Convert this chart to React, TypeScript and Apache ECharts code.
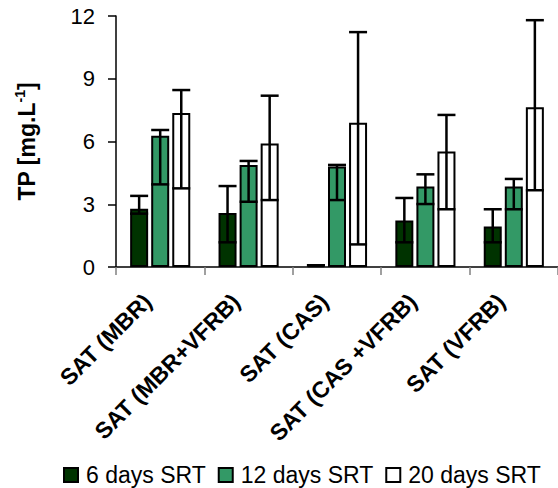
import React, { useEffect, useRef } from "react";
import * as echarts from "echarts";

// Treatment trains on the x axis
const categories = [
  "SAT (MBR)",
  "SAT (MBR+VFRB)",
  "SAT (CAS)",
  "SAT (CAS +VFRB)",
  "SAT (VFRB)",
];

// Mean TP [mg/L] per SRT
const srt6 = [2.78, 2.58, 0.08, 2.22, 1.94];
const srt12 = [6.27, 4.88, 4.8, 3.85, 3.85];
const srt20 = [7.36, 5.9, 6.9, 5.52, 7.64];

// Error bar ranges (low, high)
const srt6Low = [2.55, 1.18, 0.08, 1.18, 1.18];
const srt6High = [3.4, 3.87, 0.08, 3.3, 2.76];
const srt12Low = [3.95, 3.12, 3.2, 3.01, 2.76];
const srt12High = [6.55, 5.07, 4.88, 4.43, 4.21];
const srt20Low = [3.76, 3.2, 1.08, 2.76, 3.67];
const srt20High = [8.46, 8.19, 11.23, 7.27, 11.8];

const yTicks = [0, 3, 6, 9, 12];

const seriesNames = ["6 days SRT", "12 days SRT", "20 days SRT"];
const seriesColors = ["#003300", "#339966", "#ffffff"];

const FONT = "'Liberation Sans', Arial, sans-serif";
const BAR_W = 18;
const BAR_GAP = 0.17;
const BAR_STEP = BAR_W * (1 + BAR_GAP);

function errorSeries(low: number[], high: number[], idx: number) {
  const offset = (idx - 1) * BAR_STEP;
  return {
    type: "custom",
    z: 10,
    silent: true,
    data: low.map((lo, i) => [i, lo, high[i]]),
    encode: { x: 0, y: [1, 2] },
    renderItem: (_params: any, api: any) => {
      const cat = api.value(0);
      const pLo = api.coord([cat, api.value(1)]);
      const pHi = api.coord([cat, api.value(2)]);
      const x = pLo[0] + offset;
      const half = 9;
      const style = { stroke: "#000", lineWidth: 2.5 };
      return {
        type: "group",
        children: [
          { type: "line", shape: { x1: x, y1: pLo[1], x2: x, y2: pHi[1] }, style },
          { type: "line", shape: { x1: x - half, y1: pHi[1], x2: x + half, y2: pHi[1] }, style },
          { type: "line", shape: { x1: x - half, y1: pLo[1], x2: x + half, y2: pLo[1] }, style },
        ],
      };
    },
  };
}

export default function App() {
  const ref = useRef<HTMLDivElement>(null);

  useEffect(() => {
    if (!ref.current) return;
    const chart = echarts.init(ref.current, undefined, { renderer: "svg" });
    const values = [srt6, srt12, srt20];

    chart.setOption({
      animation: false,
      backgroundColor: "#ffffff",
      textStyle: { fontFamily: FONT },
      grid: { left: 116, top: 16, width: 451, height: 251, containLabel: false },
      legend: {
        data: seriesNames,
        left: 63,
        top: 463,
        padding: 0,
        itemWidth: 14,
        itemHeight: 14,
        itemGap: 12,
        icon: "rect",
        textStyle: {
          fontFamily: FONT,
          fontSize: 23,
          lineHeight: 24,
          color: "#000",
          padding: [0, 0, 0, 3],
        },
      },
      xAxis: {
        type: "category",
        data: categories,
        axisLine: { lineStyle: { color: "#000", width: 1.5 } },
        axisTick: { show: true, length: 8, lineStyle: { color: "#808080", width: 1.5 } },
        axisLabel: {
          interval: 0,
          rotate: 45,
          margin: 18,
          fontFamily: FONT,
          fontSize: 23,
          fontWeight: "bold",
          color: "#000",
          padding: [0, 18, 0, 0],
        },
      },
      yAxis: {
        type: "value",
        min: yTicks[0],
        max: yTicks[yTicks.length - 1],
        interval: 3,
        splitLine: { show: false },
        axisLine: { show: true, lineStyle: { color: "#000", width: 1.5 } },
        axisTick: { show: true, length: 8, lineStyle: { color: "#000", width: 1.5 } },
        axisLabel: { margin: 21, fontFamily: FONT, fontSize: 22, color: "#000" },
        name: "{a|TP [mg.L}{s|-1}{a|]}",
        nameLocation: "middle",
        nameRotate: 90,
        nameGap: 76,
        nameTextStyle: {
          rich: {
            a: { fontFamily: FONT, fontSize: 23, fontWeight: "bold", color: "#000", lineHeight: 27 },
            s: {
              fontFamily: FONT,
              fontSize: 14,
              fontWeight: "bold",
              color: "#000",
              lineHeight: 14,
              verticalAlign: "top",
            },
          },
        },
      },
      series: [
        ...values.map((v, i) => ({
          name: seriesNames[i],
          type: "bar",
          data: v,
          barWidth: BAR_W,
          barGap: `${BAR_GAP * 100}%`,
          itemStyle: { color: seriesColors[i], borderColor: "#000", borderWidth: 2 },
        })),
        errorSeries(srt6Low, srt6High, 0),
        errorSeries(srt12Low, srt12High, 1),
        errorSeries(srt20Low, srt20High, 2),
      ],
    });

    return () => chart.dispose();
  }, []);

  return (
    <div
      ref={ref}
      style={{ position: "fixed", left: 0, top: 0, width: 558, height: 488, background: "#fff" }}
    />
  );
}
